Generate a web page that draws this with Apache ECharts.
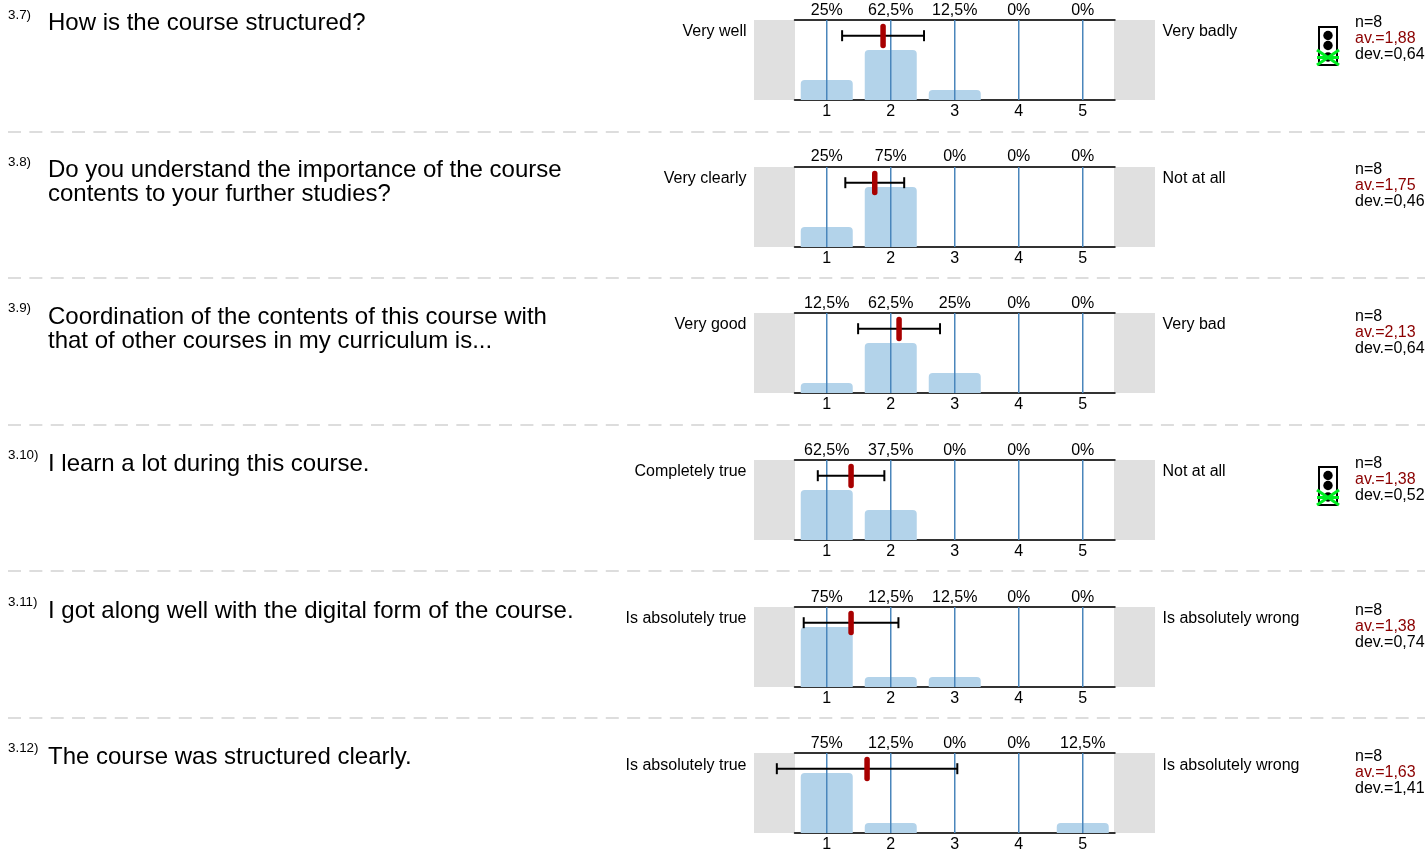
<!DOCTYPE html>
<html><head><meta charset="utf-8">
<style>html,body{margin:0;padding:0;background:#fff}#c{width:1425px;height:850px}</style>
<script src="https://cdn.jsdelivr.net/npm/echarts@6/dist/echarts.min.js"></script>
</head><body><div id="c"></div>
<script>
const scale = ['1','2','3','4','5'];
const numbers = ['3.7)','3.8)','3.9)','3.10)','3.11)','3.12)'];
const questions = [
  ['How is the course structured?'],
  ['Do you understand the importance of the course','contents to your further studies?'],
  ['Coordination of the contents of this course with','that of other courses in my curriculum is...'],
  ['I learn a lot during this course.'],
  ['I got along well with the digital form of the course.'],
  ['The course was structured clearly.']
];
const leftLabels = ['Very well','Very clearly','Very good','Completely true','Is absolutely true','Is absolutely true'];
const rightLabels = ['Very badly','Not at all','Very bad','Not at all','Is absolutely wrong','Is absolutely wrong'];
const q37 = [25,62.5,12.5,0,0];
const q38 = [25,75,0,0,0];
const q39 = [12.5,62.5,25,0,0];
const q310 = [62.5,37.5,0,0,0];
const q311 = [75,12.5,12.5,0,0];
const q312 = [75,12.5,0,0,12.5];
const shares = [q37,q38,q39,q310,q311,q312];
const counts = [8,8,8,8,8,8];
const means = [1.88,1.75,2.13,1.38,1.38,1.63];
const devs = [0.64,0.46,0.64,0.52,0.74,1.41];
const lights = [true,false,false,true,false,false];

const tops = [20,167,313,460,607,753];
const textShift = [0,0,1,1,1,1.5];
const questionShift = [0.5,0,1,1,1,1];
const gridL = 794.75, gridW = 320, gridH = 80;
const dashes = [132,278,425,571,718];
const FF = '"Liberation Sans", Arial, sans-serif';
const comma = v => String(v).replace('.',',');

const grid=[],xAxis=[],yAxis=[],series=[],graphic=[];
function txt(x,y,text,size,fill,align){
  graphic.push({type:'text',x,y,silent:true,style:{text,x:0,y:0,fontFamily:FF,fontSize:size,fill:fill||'#000',align:align||'left',verticalAlign:'middle'}});
}
tops.forEach((top,i)=>{
  grid.push({left:gridL,top,width:gridW,height:gridH,containLabel:false,outerBoundsMode:'none'});
  const base=i*3, s=textShift[i];
  xAxis.push({type:'category',gridIndex:i,data:scale,position:'bottom',
    axisLine:{lineStyle:{color:'#333',width:2}},axisTick:{show:false},
    axisLabel:{color:'#000',fontFamily:FF,fontSize:16,margin:4,interval:0}});
  xAxis.push({type:'category',gridIndex:i,data:shares[i].map(v=>comma(v)+'%'),position:'top',
    axisLine:{show:true,onZero:false,lineStyle:{color:'#333',width:2}},axisTick:{show:false},
    axisLabel:{color:'#000',fontFamily:FF,fontSize:16,margin:i===1?2:1,interval:0}});
  xAxis.push({type:'value',gridIndex:i,min:0.5,max:5.5,show:false});
  yAxis.push({type:'value',gridIndex:i,min:0,max:100,show:false});
  series.push({type:'bar',xAxisIndex:base,yAxisIndex:i,data:shares[i],barWidth:52,silent:true,z:2,
    itemStyle:{color:'#b3d3ea',borderRadius:[4,4,0,0]}});
  series.push({type:'custom',xAxisIndex:base+2,yAxisIndex:i,silent:true,z:3,clip:false,
    data:scale.map(Number),encode:{x:0},
    renderItem(p,api){const a=api.coord([api.value(0),0]),b=api.coord([api.value(0),100]);
      return {type:'line',shape:{x1:a[0],y1:a[1],x2:b[0],y2:b[1]},style:{stroke:'#4a86bb',lineWidth:1.5}};}});
  series.push({type:'custom',xAxisIndex:base+2,yAxisIndex:i,silent:true,z:4,clip:false,
    data:[[means[i],devs[i]]],encode:{x:0},
    renderItem(p,api){
      const m=api.value(0),d=api.value(1);
      const y=api.coord([m,100])[1]+15.7;
      const x1=api.coord([m-d,0])[0],x2=api.coord([m+d,0])[0],xm=api.coord([m,0])[0];
      const st={stroke:'#000',lineWidth:2};
      return {type:'group',children:[
        {type:'line',shape:{x1,y1:y,x2,y2:y},style:st},
        {type:'line',shape:{x1,y1:y-5.5,x2:x1,y2:y+5.5},style:st},
        {type:'line',shape:{x1:x2,y1:y-5.5,x2,y2:y+5.5},style:st},
        {type:'rect',shape:{x:xm-2.75,y:y-12,width:5.5,height:24.5,r:2.75},style:{fill:'#a80000'}}
      ]};
    }});
  // side bands
  [[754,41],[1114,41]].forEach(([x,w])=>graphic.push({type:'rect',silent:true,z:-1,shape:{x,y:top,width:w,height:gridH},style:{fill:'#e0e0e0'}}));
  // texts
  txt(8,top-4.5,numbers[i],13.4,'#000');
  questions[i].forEach((l,k)=>txt(48,top+3+questionShift[i]+k*24,l,24,'#000'));
  txt(746.5,top+(i===5?12.5:12),leftLabels[i],16,'#000','right');
  txt(1162.5,top+(i===5?12.5:12),rightLabels[i],16,'#000');
  txt(1355,top+2.5+s,'n='+counts[i],16,'#000');
  txt(1355,top+18.5+s,'av.='+comma(means[i]),16,'#8b0000');
  txt(1355,top+34.5+s,'dev.='+comma(devs[i]),16,'#000');
  if(lights[i]){
    const X=1319,Y=top+7;
    graphic.push({type:'rect',silent:true,shape:{x:X,y:Y,width:18,height:38},style:{fill:'#fff',stroke:'#000',lineWidth:2}});
    [8.5,18.5,30].forEach(d=>graphic.push({type:'circle',silent:true,shape:{cx:X+9,cy:Y+d,r:4.7},style:{fill:'#000'}}));
    [[-2,23,20,38],[-2,38,20,23],[-2,30.5,20,30.5]].forEach(a=>graphic.push({type:'line',silent:true,z:5,shape:{x1:X+a[0],y1:Y+a[1],x2:X+a[2],y2:Y+a[3]},style:{stroke:'#00ee22',lineWidth:3}}));
  }
});
dashes.forEach(y=>graphic.push({type:'line',silent:true,shape:{x1:8,y1:y,x2:1425,y2:y},style:{stroke:'#bbbbbb',lineWidth:1.2,lineDash:[13,8.35]}}));

const chart=echarts.init(document.getElementById('c'),null,{renderer:'canvas'});
chart.setOption({animation:false,backgroundColor:'#fff',grid,xAxis,yAxis,series,graphic:{elements:graphic}});
</script></body></html>
